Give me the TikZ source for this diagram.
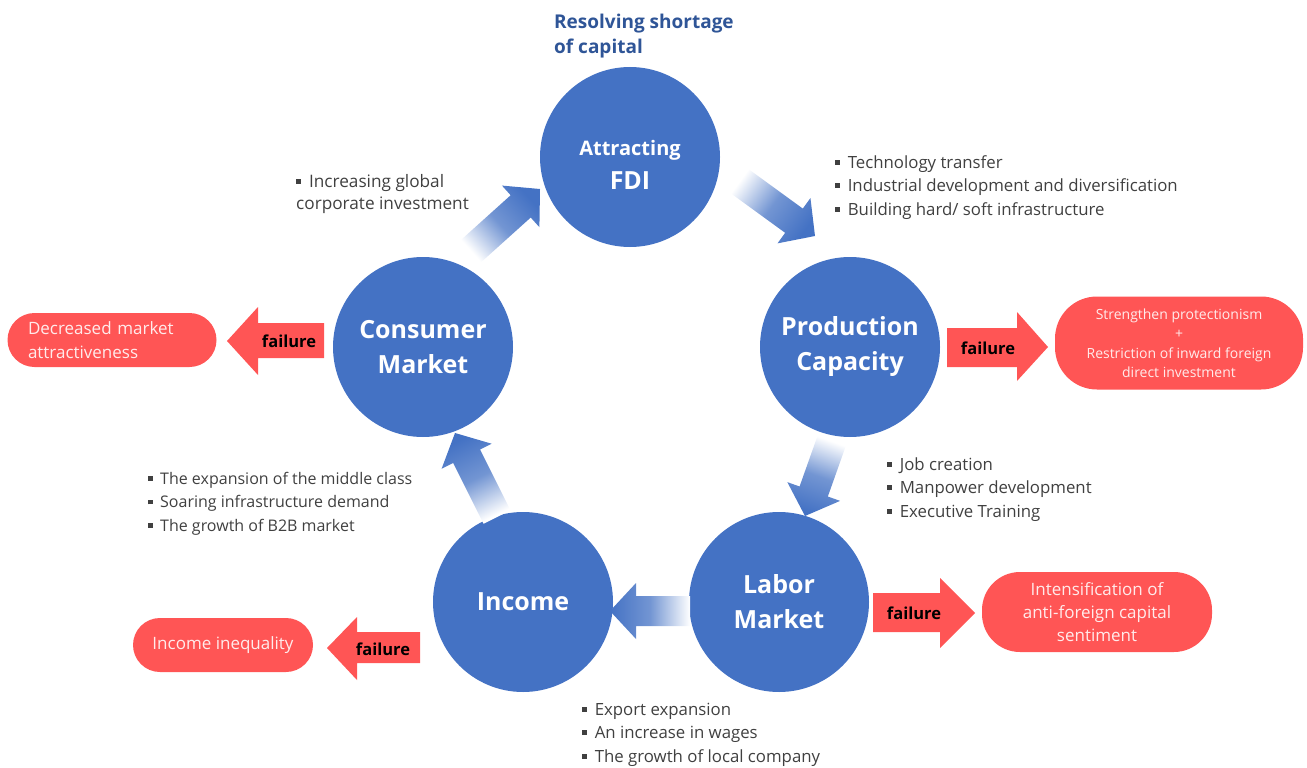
\documentclass[tikz,border=0pt]{standalone}
\usepackage{fontspec}
\setmainfont{Open Sans}
\usetikzlibrary{calc}

\definecolor{fdiblue}{RGB}{68,114,196}
\definecolor{failred}{RGB}{255,85,85}
\definecolor{notegray}{RGB}{64,64,64}
\definecolor{titleblue}{RGB}{47,85,151}

\newcommand{\bul}{\rule[0.2em]{0.3em}{0.3em}\hspace{0.45em}}

\tikzset{
  stage/.style={circle, fill=fdiblue, minimum size=180pt, inner sep=0pt, text=white, align=center, font=\bfseries\fontsize{25}{35}\selectfont},
  stagetext/.style={inner sep=0pt, text=white, align=center, font=\bfseries\fontsize{25}{34}\selectfont},
  outcome/.style={rectangle, fill=failred, inner sep=0pt, text=white!88!failred, align=center},
  note/.style={anchor=north west, inner sep=0pt, text=notegray, align=left, font=\fontsize{16.8}{23.5}\selectfont},
  failtext/.style={inner sep=0pt, font=\bfseries\fontsize{16.5}{20}\selectfont},
  fadearrow/.style={top color=fdiblue, bottom color=white, middle color=fdiblue!75},
}

% block arrow with fading tail: tail, tip, shading angle
\newcommand{\fadearrow}[3]{%
  \coordinate (fa-head) at ($(#2)!26pt!(#1)$);
  \path[fadearrow, shading angle=#3]
    ($(#1)!15pt!90:(#2)$) -- ($(fa-head)!15pt!90:(#2)$) -- ($(fa-head)!28pt!90:(#2)$)
    -- (#2) -- ($(fa-head)!28pt!-90:(#2)$) -- ($(fa-head)!15pt!-90:(#2)$)
    -- ($(#1)!15pt!-90:(#2)$) -- cycle;}

\begin{document}
\begin{tikzpicture}[x=1pt,y=1pt,yscale=-1,xscale=1]
\useasboundingbox (0,0) rectangle (1307,768);

%Stages
\node[stage] (fdi) at (630,157) {};
\node[stagetext] (fdi-text) at ($(fdi)+(0,8)$) {{\fontsize{20}{34}\selectfont Attracting}\\FDI};
\node[stage] (prod) at (850,347) {Production\\Capacity};
\node[stage] (labor) at (779,602) {Labor\\Market};
\node[stage] (income) at (523,602) {Income};
\node[stage] (cons) at (423,347) {Consumer\\Market};

%Cycle arrows
\coordinate (c2f-s) at (470,252); \coordinate (c2f-e) at (540,189);
\coordinate (f2p-s) at (738,180); \coordinate (f2p-e) at (815,236);
\coordinate (p2l-s) at (832,440); \coordinate (p2l-e) at (805,516);
\coordinate (l2i-s) at (690,611); \coordinate (l2i-e) at (610,611);
\coordinate (i2c-s) at (497,517); \coordinate (i2c-e) at (455,433);
\fadearrow{c2f-s}{c2f-e}{-48}
\fadearrow{f2p-s}{f2p-e}{-126}
\fadearrow{p2l-s}{p2l-e}{160}
\fadearrow{l2i-s}{l2i-e}{90}
\fadearrow{i2c-s}{i2c-e}{27}

%Failure arrows
\fill[failred] (324,323) -- (258,323) -- (258,307) -- (227,341) -- (258,375) -- (258,358) -- (324,358) -- cycle ;
\fill[failred] (947,328) -- (1017,328) -- (1017,312) -- (1048,347) -- (1017,381) -- (1017,367) -- (947,367) -- cycle ;
\fill[failred] (873,593) -- (940,593) -- (940,578) -- (975,613) -- (940,648) -- (940,632) -- (873,632) -- cycle ;
\fill[failred] (420,632) -- (357,632) -- (357,617) -- (327,648) -- (357,680) -- (357,663) -- (420,663) -- cycle ;
\node[failtext] (cons-fail) at (289,341) {failure};
\node[failtext] (prod-fail) at (988,348) {failure};
\node[failtext] (labor-fail) at (914,613) {failure};
\node[failtext] (income-fail) at (383,649) {failure};

%Outcomes
\node[outcome, minimum width=209pt, minimum height=54pt, rounded corners=27pt, text width=168pt, align=left, font=\fontsize{17}{24}\selectfont] (decreased) at (112,340) {Decreased market\\attractiveness};
\node[outcome, minimum width=248pt, minimum height=93pt, rounded corners=42pt, font=\fontsize{14}{19.5}\selectfont] (protect) at (1179,343) {Strengthen protectionism\\+\\Restriction of inward foreign\\direct investment};
\node[outcome, minimum width=230pt, minimum height=80pt, rounded corners=38pt, font=\fontsize{17}{23}\selectfont] (sentiment) at (1097,612) {Intensification of\\anti-foreign capital\\sentiment};
\node[outcome, minimum width=180pt, minimum height=54pt, rounded corners=27pt, font=\fontsize{17}{24}\selectfont] (inequality) at (223,645) {Income inequality};

% Text Node
\node[note, text=titleblue, font=\bfseries\fontsize{19}{25}\selectfont] (capital) at (554,10.5) {\strut Resolving shortage\\of capital};
% Text Node
\node[note, font=\fontsize{17.2}{22}\selectfont] (global) at (296,172) {\strut\bul Increasing global\\corporate investment};
% Text Node
\node[note] (transfer) at (835,151.5) {\strut\bul Technology transfer\\\bul Industrial development and diversification\\\bul Building hard/ soft infrastructure};
% Text Node
\node[note] (jobs) at (887,453.5) {\strut\bul Job creation\\\bul Manpower development\\\bul Executive Training};
% Text Node
\node[note] (export) at (582,698.5) {\strut\bul Export expansion\\\bul An increase in wages\\\bul The growth of local company};
% Text Node
\node[note, font=\fontsize{16}{23.5}\selectfont] (middle) at (148,467.5) {\strut\bul The expansion of the middle class\\\bul Soaring infrastructure demand\\\bul The growth of B2B market};

\end{tikzpicture}
\end{document}
